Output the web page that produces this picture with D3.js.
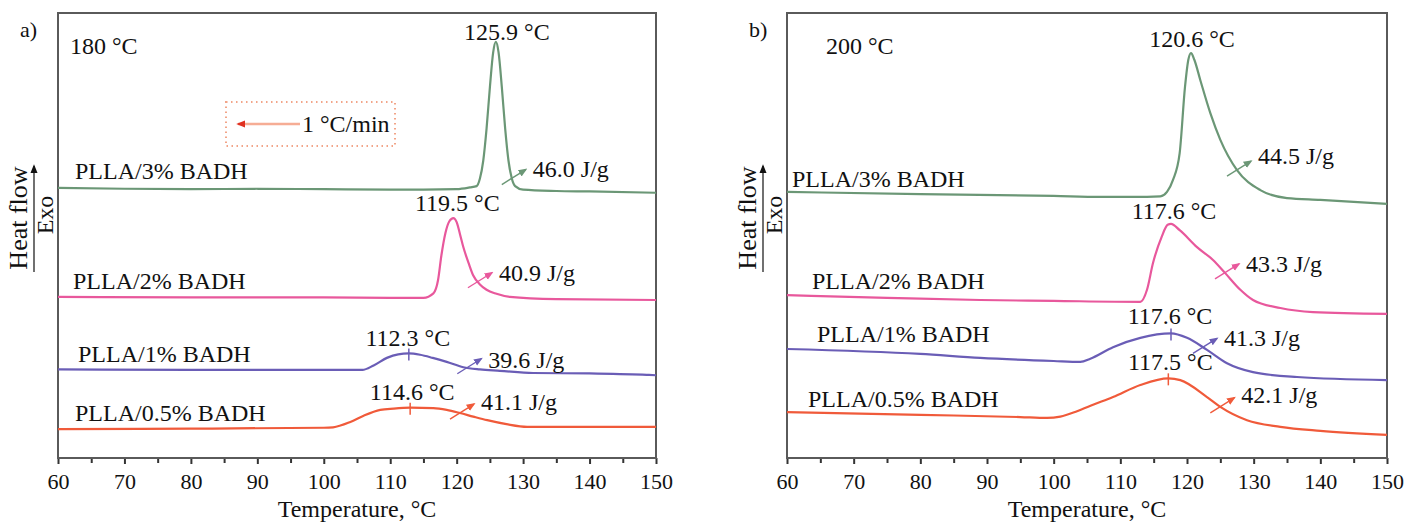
<!DOCTYPE html>
<html>
<head>
<meta charset="utf-8">
<script src="https://cdn.jsdelivr.net/npm/d3@7"></script>
<style>
  body { margin: 0; background: #fff; }
  text { font-family: "Liberation Serif", "DejaVu Serif", serif; fill: #111; }
</style>
</head>
<body>
<script>
// series names, same order in both panels
var seriesNames = ["PLLA/3% BADH", "PLLA/2% BADH", "PLLA/1% BADH", "PLLA/0.5% BADH"];
var seriesColors = ["#6b9776", "#e8589c", "#6a5db6", "#f05a3a"];

var majorTicks = [60, 70, 80, 90, 100, 110, 120, 130, 140, 150];
var minorTicks = [65, 75, 85, 95, 105, 115, 125, 135, 145];

// a) 180 °C  -- [temperature °C, heat flow a.u.]
var a180_3 = [[60,60.7],[70,60.5],[80,60.4],[90,60.5],[100,60.4],[110,60.3],[115,60.3],[120,60.4],[122,60.8],[123,61.1],[123.5,62.8],[124,66.8],[124.5,74.0],[125,83.3],[125.5,91.2],[125.9,93.5],[126.3,91.2],[126.8,83.3],[127.3,74.0],[127.8,66.8],[128.3,62.8],[128.8,61.1],[130,60.3],[135,60.0],[140,59.9],[150,59.6]];
var a180_2 = [[60,36.2],[80,36.1],[100,36.1],[110,36.0],[115,36.0],[116.5,37.0],[117.2,40.0],[117.7,45.5],[118.3,50.5],[118.9,53.2],[119.5,53.9],[120.0,53.0],[120.5,50.3],[121.0,47.4],[121.8,43.8],[122.5,41.0],[123.5,39.0],[124.5,37.8],[126,36.9],[128,36.2],[135,35.7],[150,35.5]];
var a180_1 = [[60,19.9],[80,19.8],[100,19.8],[105.8,19.8],[107.5,20.8],[109.5,22.5],[111.2,23.3],[112.8,23.5],[114.5,23.2],[116.4,22.5],[118.5,21.6],[121,20.4],[123.5,19.9],[126.5,19.6],[131.5,19.1],[140,19.0],[148.6,18.7],[150,18.6]];
var a180_05 = [[60,6.5],[80,6.6],[100,6.8],[101.4,6.9],[104,8.1],[106,9.5],[108.5,10.8],[110.5,11.1],[113,11.3],[116.5,11.2],[118.5,10.8],[120.5,10.1],[122.5,9.3],[124.6,8.5],[127.5,7.6],[130.6,7.0],[140,7.0],[150,7.0]];
var peakLabelsA = ["125.9 °C", "119.5 °C", "112.3 °C", "114.6 °C"];
var enthalpyA = ["46.0 J/g", "40.9 J/g", "39.6 J/g", "41.1 J/g"];
var enthalpyTempA = [128.3, 123.2, 121.6, 120.5];

// b) 200 °C
var b200_3 = [[60,59.8],[80,59.3],[100,58.9],[107,58.7],[114,58.7],[116,58.8],[117,59.8],[117.9,62.5],[118.9,68.5],[119.7,83.4],[120.2,89.5],[120.6,91.0],[121.1,89.5],[122.0,84.9],[123.5,77.5],[125.0,71.5],[127.5,64.7],[131.0,60.2],[135.0,58.4],[140,58.0],[150,57.1]];
var b200_2 = [[60,36.6],[75,36.0],[89,35.5],[100,35.3],[113,35.1],[114,37.8],[114.9,43.8],[116.2,49.7],[117.1,52.4],[117.6,52.6],[118.9,51.2],[121.5,47.4],[123.9,44.5],[125.7,41.6],[128,37.8],[129.9,35.5],[134,33.7],[138.9,32.8],[150,32.4]];
var b200_1 = [[60,24.5],[80,23.4],[89,22.5],[100,21.8],[104,21.6],[105.5,22.3],[108.9,24.9],[113,27.0],[117.6,28.0],[120,27.0],[123,24.3],[126,21.3],[129.9,19.3],[136.5,18.2],[150,17.5]];
var b200_05 = [[60,10.3],[80,9.7],[95,9.2],[99,9.0],[101,9.3],[103.5,10.5],[106,12.0],[108.9,13.7],[113,16.4],[117.2,17.9],[119,17.5],[123,13.7],[125,11.5],[129,8.5],[134,7.0],[140,6.1],[150,5.2]];
var peakLabelsB = ["120.6 °C", "117.6 °C", "117.6 °C", "117.5 °C"];
var enthalpyB = ["44.5 J/g", "43.3 J/g", "41.3 J/g", "42.1 J/g"];
var enthalpyTempB = [127.5, 125.7, 122.4, 125.0];

var svg = d3.select("body").append("svg").attr("width", 1409).attr("height", 524);

var defs = svg.append("defs");
seriesColors.concat(["#111", "#e03020"]).forEach(function (c, i) {
    defs.append("marker").attr("id", "head" + i)
        .attr("viewBox", "0 0 10 10").attr("refX", 8).attr("refY", 5)
        .attr("markerWidth", 9).attr("markerHeight", 9)
        .attr("markerUnits", "userSpaceOnUse").attr("orient", "auto")
        .append("path").attr("d", "M0,1 L10,5 L0,9 Z").attr("fill", c);
});

const valueAt = (s, t) => {
    var i = d3.bisector(d => d[0]).left(s, t);
    if (i <= 0) return s[0][1];
    var p = s[i - 1], q = s[i];
    return p[1] + (q[1] - p[1]) * (t - p[0]) / (q[0] - p[0]);
};

function drawPanel(cfg) {
    var x = d3.scaleLinear().domain([60, 150]).range([cfg.left, cfg.right]);
    var y = d3.scaleLinear().domain([0, 100]).range([458, 13]);
    var g = svg.append("g");

    // ticks
    var minor = g.append("g").attr("transform", "translate(0,458)")
        .call(d3.axisBottom(x).tickValues(minorTicks).tickSize(5).tickFormat(""));
    var major = g.append("g").attr("transform", "translate(0,458)")
        .call(d3.axisBottom(x).tickValues(majorTicks).tickSize(6).tickFormat(d3.format("d")));
    [minor, major].forEach(function (ax) {
        ax.select(".domain").remove();
        ax.selectAll("line").attr("stroke", "#333").attr("stroke-width", 2);
    });
    major.attr("font-family", null);
    major.selectAll("text").attr("y", 31).attr("dy", 0).attr("font-size", 22).attr("fill", "#111");

    g.append("rect").attr("x", cfg.left).attr("y", 13)
        .attr("width", cfg.right - cfg.left).attr("height", 445)
        .attr("fill", "none").attr("stroke", "#5a5a5a").attr("stroke-width", 2);

    g.append("text").attr("x", (cfg.left + cfg.right) / 2).attr("y", 517)
        .attr("text-anchor", "middle").attr("font-size", 24).text("Temperature, °C");

    // y label with arrow
    var yl = g.append("g").attr("transform", "translate(" + (cfg.left - 58) + ",0)");
    yl.append("text").attr("transform", "translate(27,218) rotate(-90)")
        .attr("text-anchor", "middle").attr("font-size", 26).text("Heat flow");
    yl.append("line").attr("x1", 34).attr("x2", 34).attr("y1", 272).attr("y2", 166)
        .attr("stroke", "#111").attr("stroke-width", 1.2).attr("marker-end", "url(#head4)");
    yl.append("text").attr("transform", "translate(53,215) rotate(-90)")
        .attr("text-anchor", "middle").attr("font-size", 24).text("Exo");

    g.append("text").attr("x", cfg.left - 38).attr("y", 37).attr("font-size", 22).text(cfg.tag);
    g.append("text").attr("x", cfg.left + cfg.condDx).attr("y", 54).attr("font-size", 24).text(cfg.cond);

    var line = d3.line().x(d => x(d[0])).y(d => y(d[1])).curve(d3.curveMonotoneX);

    cfg.series.forEach(function (s, i) {
        var col = seriesColors[i];
        g.append("path").datum(s).attr("d", line).attr("fill", "none")
            .attr("stroke", col).attr("stroke-width", 2.2).attr("stroke-linejoin", "round");

        // series name above the left baseline
        g.append("text").attr("x", cfg.left + cfg.nameDx[i]).attr("y", y(s[0][1]) + cfg.nameDy[i])
            .attr("font-size", 24).text(seriesNames[i]);

        // peak temperature
        var pk = d3.greatest(s, d => d[1]);
        var px = x(pk[0]), py = y(pk[1]);
        g.append("text").attr("x", px + cfg.peakDx[i]).attr("y", py + cfg.peakDy[i])
            .attr("text-anchor", "middle").attr("font-size", 24).text(cfg.peaks[i]);
        if (i >= 2) {
            g.append("line").attr("x1", px).attr("x2", px).attr("y1", py - 5).attr("y2", py + 7)
                .attr("stroke", col).attr("stroke-width", 1.5);
        }

        // enthalpy arrow crossing the curve
        var t = cfg.hTemp[i];
        var cx = x(t), cy = y(valueAt(s, t));
        g.append("line").attr("x1", cx - 10).attr("y1", cy + 6).attr("x2", cx + 14).attr("y2", cy - 9)
            .attr("stroke", col).attr("stroke-width", 1.4).attr("marker-end", "url(#head" + i + ")");
        g.append("text").attr("x", cx + 21).attr("y", cy - 9 + cfg.hDy[i]).attr("dy", "0.33em")
            .attr("font-size", 24).text(cfg.enthalpy[i]);
    });
    return { x: x, y: y, g: g };
}

var pa = drawPanel({
    left: 58, right: 656, tag: "a)", cond: "180 °C", condDx: 12,
    series: [a180_3, a180_2, a180_1, a180_05],
    peaks: peakLabelsA, enthalpy: enthalpyA, hTemp: enthalpyTempA,
    nameDx: [17, 15, 20, 17], nameDy: [-9, -8, -7, -8],
    peakDx: [11, 4, -1, 2], peakDy: [-2, -7, -7, -8],
    hDy: [0, 0, 1, -2]
});

drawPanel({
    left: 787, right: 1387, tag: "b)", cond: "200 °C", condDx: 39,
    series: [b200_3, b200_2, b200_1, b200_05],
    peaks: peakLabelsB, enthalpy: enthalpyB, hTemp: enthalpyTempB,
    nameDx: [5, 25, 30, 21], nameDy: [-5, -6, -7, -5],
    peakDx: [1, 3, -1, 2], peakDy: [-6, -5, -9, -8],
    hDy: [-5, 0, 0, -3]
});

// heating-rate legend in panel a
var lg = pa.g.append("g");
lg.append("rect").attr("x", 226).attr("y", 102).attr("width", 169).attr("height", 44)
    .attr("fill", "none").attr("stroke", "#f2a488").attr("stroke-width", 2)
    .attr("stroke-dasharray", "1.5,3.5");
lg.append("line").attr("x1", 300).attr("x2", 238).attr("y1", 124).attr("y2", 124)
    .attr("stroke", "#f6ad95").attr("stroke-width", 2.5).attr("marker-end", "url(#head5)");
lg.append("text").attr("x", 302).attr("y", 124).attr("dy", "0.33em")
    .attr("font-size", 24).text("1 °C/min");
</script>
</body>
</html>
